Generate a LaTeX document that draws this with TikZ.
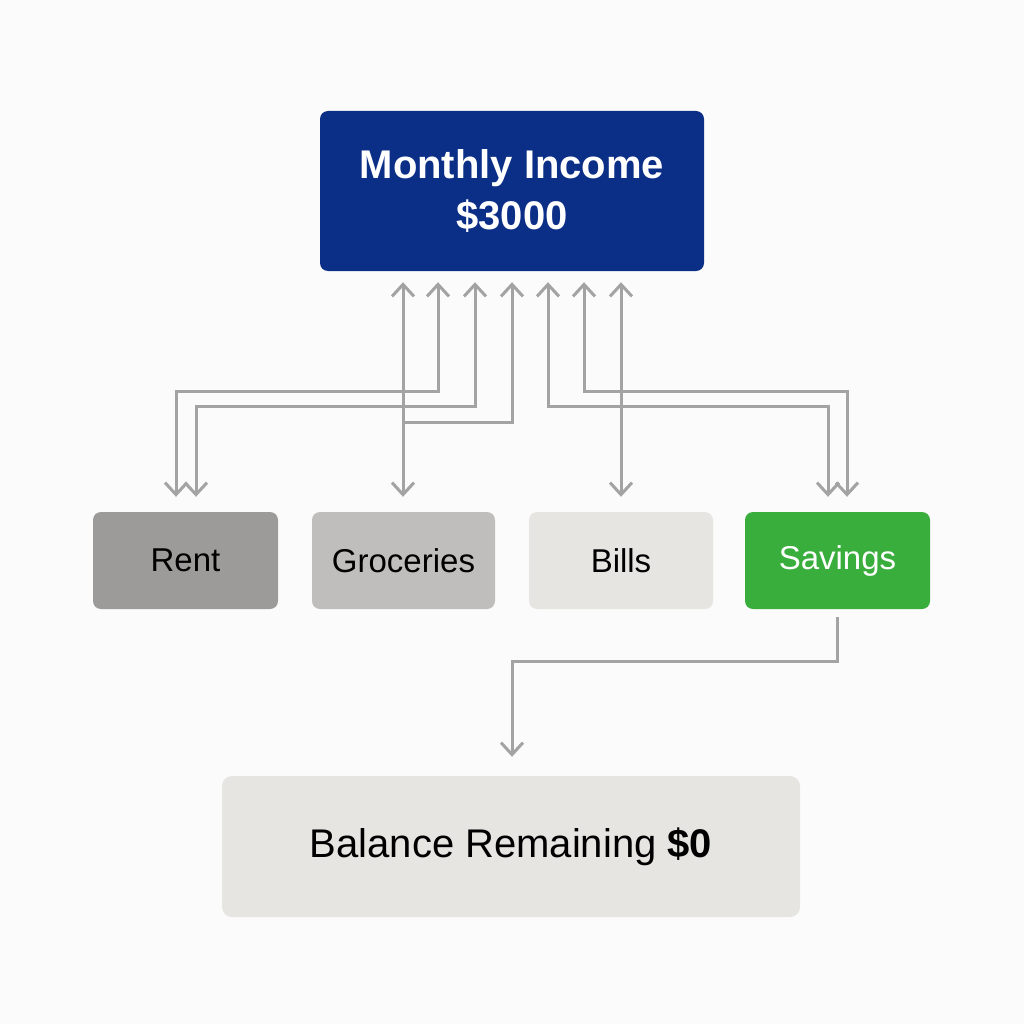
\documentclass[tikz,border=0pt]{standalone}
\usepackage{fontspec}
\setmainfont{Liberation Sans}
\usetikzlibrary{arrows.meta}
\definecolor{bgc}{HTML}{FBFBFB}
\definecolor{incblue}{HTML}{0B2E87}
\definecolor{rentc}{HTML}{9D9B9A}
\definecolor{groc}{HTML}{BFBEBC}
\definecolor{billc}{HTML}{E6E5E2}
\definecolor{savc}{HTML}{3AAE3C}
\definecolor{balc}{HTML}{E6E5E1}
\definecolor{linegray}{HTML}{A3A3A3}
\tikzset{
  box/.style={rectangle, rounded corners=8pt, inner sep=0pt, minimum height=97pt, font=\fontsize{33}{40}\selectfont},
  link/.style={draw=linegray, line width=3pt, line join=miter},
  tip/.tip={Straight Barb[length=12pt,width=22pt]},
}
\begin{document}
\begin{tikzpicture}[x=1pt,y=-1pt]
\useasboundingbox (0,0) rectangle (1024,1024);
\fill[bgc] (0,0) rectangle (1024,1024);

\node[rectangle, rounded corners=8pt, fill=incblue, minimum width=384pt, minimum height=160pt, inner sep=0pt, text=white, align=center, font=\fontsize{40}{51}\selectfont\bfseries] (inc) at (512,191) {Monthly Income\\\$3000};

\node[box, fill=rentc, minimum width=185pt] (rent) at (185.5,560.5) {Rent};
\node[box, fill=groc, minimum width=183pt] (gro) at (403.5,560.5) {Groceries};
\node[box, fill=billc, minimum width=184pt] (bill) at (621,560.5) {Bills};
\node[box, fill=savc, minimum width=185pt, text=white] (sav) at (837.5,560.5) {Savings};
\node[rectangle, rounded corners=10pt, fill=balc, minimum width=578pt, minimum height=141pt, inner sep=0pt, font=\fontsize{40}{48}\selectfont] (bal) at (511,846.5) {Balance Remaining \textbf{\$0}};

% Income <-> Groceries
\draw[link, tip-tip, shorten <=11pt, shorten >=15pt] (403,0 |- inc.south) -- (403,0 |- gro.north);
% Income <-> Rent
\draw[link, tip-tip, shorten <=11pt, shorten >=15pt] (438,0 |- inc.south) -- (438,391) -- (176,391) -- (176,0 |- rent.north);
\draw[link, tip-tip, shorten <=11pt, shorten >=15pt] (475,0 |- inc.south) -- (475,406) -- (196,406) -- (196,0 |- rent.north);
% Income -> Groceries line join
\draw[link, tip-, shorten <=11pt] (512,0 |- inc.south) -- (512,422) -- (403,422);
% Income <-> Savings
\draw[link, tip-tip, shorten <=11pt, shorten >=15pt] (548,0 |- inc.south) -- (548,406) -- (828,406) -- (828,0 |- sav.north);
\draw[link, tip-tip, shorten <=11pt, shorten >=15pt] (584,0 |- inc.south) -- (584,391) -- (847,391) -- (847,0 |- sav.north);
% Income <-> Bills
\draw[link, tip-tip, shorten <=11pt, shorten >=15pt] (621,0 |- inc.south) -- (621,0 |- bill.north);
% Savings -> Balance
\draw[link, -tip, shorten <=8pt, shorten >=19pt] (837,0 |- sav.south) -- (837,661) -- (512,661) -- (512,0 |- bal.north);
\end{tikzpicture}
\end{document}
